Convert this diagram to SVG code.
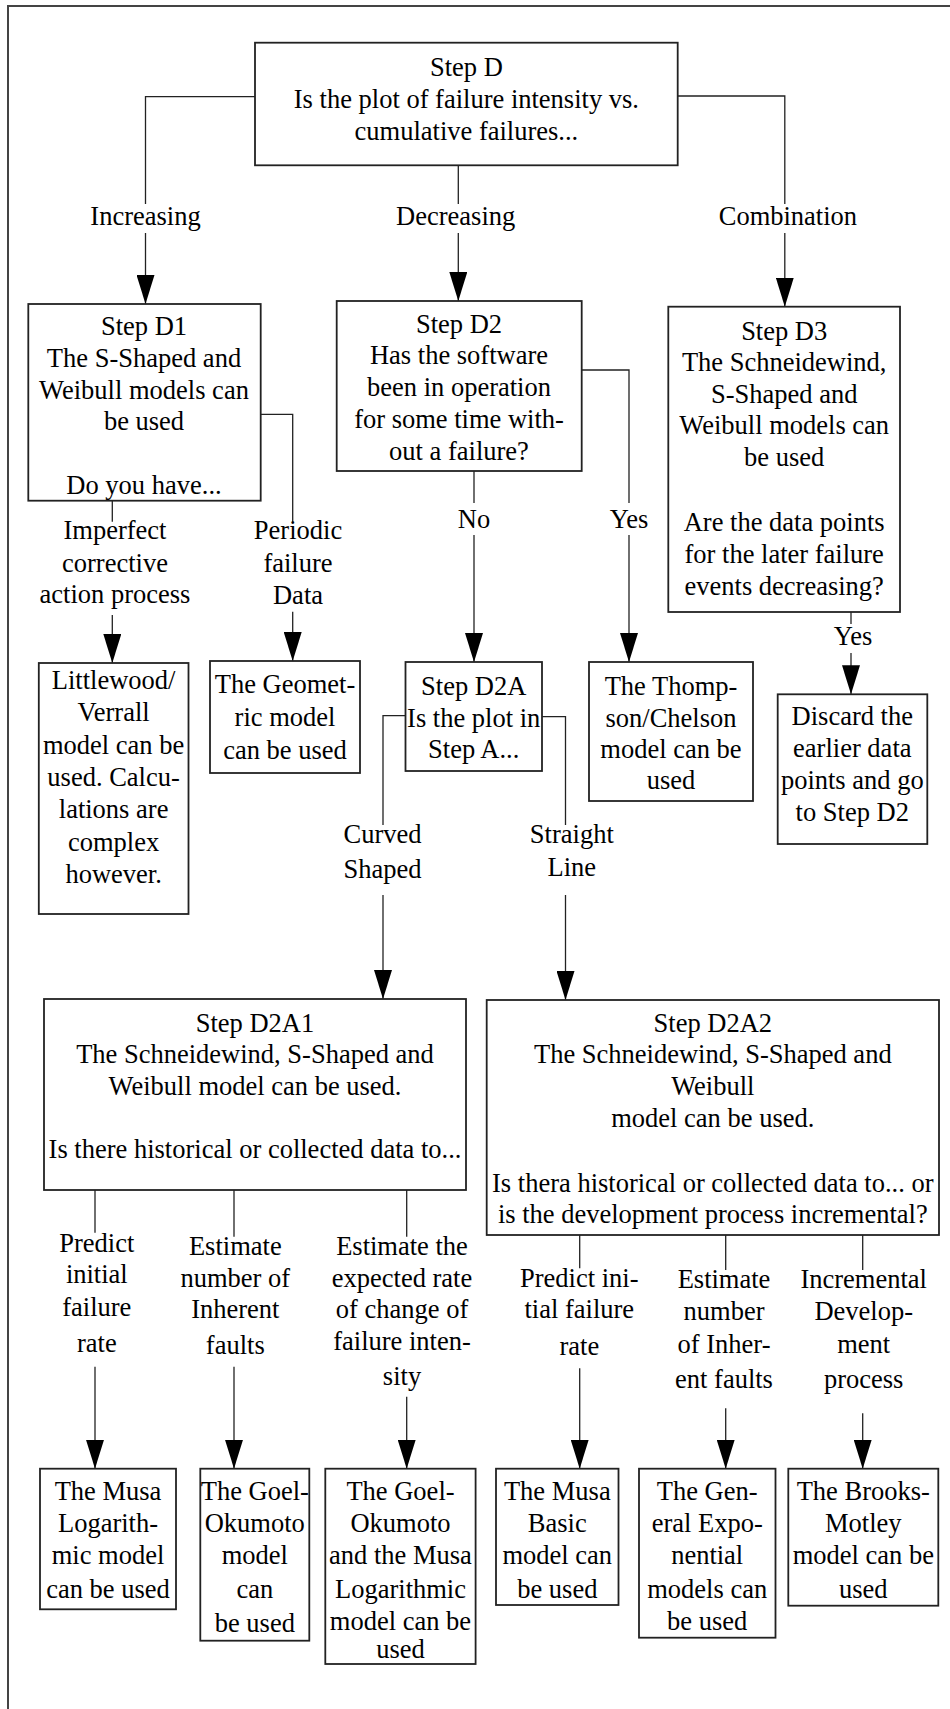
<svg xmlns="http://www.w3.org/2000/svg" width="950" height="1709" viewBox="0 0 950 1709">
  <defs>
    <style>
      .frame { fill: none; stroke: #444; stroke-width: 2; }
      .box { fill: #fff; stroke: #222; stroke-width: 1.8; }
      .edge { fill: none; stroke: #222; stroke-width: 1.3; }
      .arrow { marker-end: url(#head); }
      text { font-family: "Liberation Serif", "Times New Roman", serif; font-size: 26.5px; fill: #000; text-anchor: middle; }
    </style>
    <marker id="head" markerUnits="userSpaceOnUse" markerWidth="30" markerHeight="18" refX="29" refY="9" orient="auto">
      <path d="M0,0 L29,9 L0,18 z" fill="#000"/>
    </marker>
  </defs>

  <rect width="950" height="1709" fill="#fff"/>
  <path class="frame" d="M8,1709 V6 H950"/>

  <!-- connectors and their labels -->
  <g id="connectors">
    <path class="edge" d="M255,96.7 H145.5 V204"/>
    <path class="edge arrow" d="M145.5,233 V304"/>
    <path class="edge" d="M458.3,165.3 V204"/>
    <path class="edge arrow" d="M458.3,233 V301"/>
    <path class="edge" d="M677.7,96 H784.8 V204"/>
    <path class="edge arrow" d="M784.8,233 V306.7"/>

    <path class="edge" d="M112.3,500.7 V521.7"/>
    <path class="edge arrow" d="M112.3,615 V663"/>
    <path class="edge" d="M260.7,414.3 H292.7 V521.7"/>
    <path class="edge arrow" d="M292.7,611.7 V661"/>

    <path class="edge" d="M474,471 V503"/>
    <path class="edge arrow" d="M474,535 V662"/>
    <path class="edge" d="M581.7,370 H629 V503"/>
    <path class="edge arrow" d="M629,535 V662"/>

    <path class="edge" d="M851,612 V624"/>
    <path class="edge arrow" d="M851,653 V694.3"/>

    <path class="edge" d="M405.5,715.7 H383 V825"/>
    <path class="edge arrow" d="M383,895 V999"/>
    <path class="edge" d="M542,716.7 H565.5 V825"/>
    <path class="edge arrow" d="M565.5,895 V1000"/>

    <path class="edge" d="M95,1190 V1232.7"/>
    <path class="edge arrow" d="M95,1366.7 V1468.7"/>
    <path class="edge" d="M234,1190 V1236.7"/>
    <path class="edge arrow" d="M234,1366.7 V1468.7"/>
    <path class="edge" d="M406.7,1190 V1236.7"/>
    <path class="edge arrow" d="M406.7,1396.7 V1468.7"/>

    <path class="edge" d="M579.7,1235 V1268.3"/>
    <path class="edge arrow" d="M579.7,1368.3 V1468.7"/>
    <path class="edge" d="M725.7,1235 V1270"/>
    <path class="edge arrow" d="M725.7,1408.3 V1468.7"/>
    <path class="edge" d="M862.7,1235 V1270"/>
    <path class="edge arrow" d="M862.7,1413.3 V1468.7"/>

    <text x="145.5" y="225">Increasing</text>
    <text x="455.7" y="225">Decreasing</text>
    <text x="787.9" y="225">Combination</text>

    <text><tspan x="115" y="539.3">Imperfect</tspan><tspan x="115" y="571.7">corrective</tspan><tspan x="115" y="603.3">action process</tspan></text>
    <text><tspan x="298" y="539.3">Periodic</tspan><tspan x="298" y="571.7">failure</tspan><tspan x="298" y="604">Data</tspan></text>
    <text x="474" y="527.7">No</text>
    <text x="629" y="527.7">Yes</text>
    <text x="853" y="645">Yes</text>

    <text><tspan x="382.6" y="843">Curved</tspan><tspan x="382.6" y="878">Shaped</tspan></text>
    <text><tspan x="571.8" y="843">Straight</tspan><tspan x="571.8" y="876">Line</tspan></text>

    <text><tspan x="96.8" y="1251.7">Predict</tspan><tspan x="96.8" y="1283.3">initial</tspan><tspan x="96.8" y="1315.7">failure</tspan><tspan x="96.8" y="1351.7">rate</tspan></text>
    <text><tspan x="235.3" y="1255">Estimate</tspan><tspan x="235.3" y="1286.7">number of</tspan><tspan x="235.3" y="1318.3">Inherent</tspan><tspan x="235.3" y="1354">faults</tspan></text>
    <text><tspan x="402" y="1255">Estimate the</tspan><tspan x="402" y="1286.7">expected rate</tspan><tspan x="402" y="1318.3">of change of</tspan><tspan x="402" y="1350">failure inten-</tspan><tspan x="402" y="1385">sity</tspan></text>

    <text><tspan x="579.3" y="1286.7">Predict ini-</tspan><tspan x="579.3" y="1318.3">tial failure</tspan><tspan x="579.3" y="1355">rate</tspan></text>
    <text><tspan x="724" y="1288.3">Estimate</tspan><tspan x="724" y="1320">number</tspan><tspan x="724" y="1353.3">of Inher-</tspan><tspan x="724" y="1388.3">ent faults</tspan></text>
    <text><tspan x="863.7" y="1288.3">Incremental</tspan><tspan x="863.7" y="1320">Develop-</tspan><tspan x="863.7" y="1352.7">ment</tspan><tspan x="863.7" y="1388.3">process</tspan></text>
  </g>

  <g id="step-d">
    <rect class="box" x="255" y="42.7" width="422.7" height="122.6"/>
    <text><tspan x="466.4" y="75.7">Step D</tspan><tspan x="466.4" y="107.6">Is the plot of failure intensity vs.</tspan><tspan x="466.4" y="140">cumulative failures...</tspan></text>
  </g>

  <g id="step-d1">
    <rect class="box" x="28.3" y="304" width="232.4" height="196.7"/>
    <text><tspan x="144" y="335">Step D1</tspan><tspan x="144" y="366.7">The S-Shaped and</tspan><tspan x="144" y="399">Weibull models can</tspan><tspan x="144" y="430">be used</tspan><tspan x="144" y="494">Do you have...</tspan></text>
  </g>

  <g id="step-d2">
    <rect class="box" x="336.7" y="301" width="245" height="170"/>
    <text><tspan x="459" y="332.7">Step D2</tspan><tspan x="459" y="364">Has the software</tspan><tspan x="459" y="396">been in operation</tspan><tspan x="459" y="427.7">for some time with-</tspan><tspan x="459" y="460">out a failure?</tspan></text>
  </g>

  <g id="step-d3">
    <rect class="box" x="668.3" y="306.7" width="231.7" height="305.3"/>
    <text><tspan x="784.2" y="340">Step D3</tspan><tspan x="784.2" y="371">The Schneidewind,</tspan><tspan x="784.2" y="402.7">S-Shaped and</tspan><tspan x="784.2" y="434">Weibull models can</tspan><tspan x="784.2" y="466">be used</tspan><tspan x="784.2" y="530.7">Are the data points</tspan><tspan x="784.2" y="563.3">for the later failure</tspan><tspan x="784.2" y="595">events decreasing?</tspan></text>
  </g>

  <g id="littlewood-verrall">
    <rect class="box" x="38.8" y="663" width="149.7" height="251"/>
    <text><tspan x="113.6" y="689">Littlewood/</tspan><tspan x="113.6" y="721.3">Verrall</tspan><tspan x="113.6" y="753.6">model can be</tspan><tspan x="113.6" y="786">used. Calcu-</tspan><tspan x="113.6" y="818">lations are</tspan><tspan x="113.6" y="850.5">complex</tspan><tspan x="113.6" y="883">however.</tspan></text>
  </g>

  <g id="geometric">
    <rect class="box" x="210" y="661" width="150" height="112"/>
    <text><tspan x="285" y="693">The Geomet-</tspan><tspan x="285" y="726">ric model</tspan><tspan x="285" y="759">can be used</tspan></text>
  </g>

  <g id="step-d2a">
    <rect class="box" x="405.5" y="662" width="136.5" height="109"/>
    <text><tspan x="473.7" y="695">Step D2A</tspan><tspan x="473.7" y="726.5">Is the plot in</tspan><tspan x="473.7" y="758.3">Step A...</tspan></text>
  </g>

  <g id="thompson-chelson">
    <rect class="box" x="589" y="662" width="164" height="139"/>
    <text><tspan x="671" y="695">The Thomp-</tspan><tspan x="671" y="726.7">son/Chelson</tspan><tspan x="671" y="758">model can be</tspan><tspan x="671" y="789">used</tspan></text>
  </g>

  <g id="discard">
    <rect class="box" x="777.7" y="694.3" width="149.6" height="149.7"/>
    <text><tspan x="852.3" y="725">Discard the</tspan><tspan x="852.3" y="757">earlier data</tspan><tspan x="852.3" y="789">points and go</tspan><tspan x="852.3" y="821">to Step D2</tspan></text>
  </g>

  <g id="step-d2a1">
    <rect class="box" x="44" y="999" width="422" height="191"/>
    <text><tspan x="255" y="1031.7">Step D2A1</tspan><tspan x="255" y="1063.3">The Schneidewind, S-Shaped and</tspan><tspan x="255" y="1094.5">Weibull model can be used.</tspan><tspan x="255" y="1158.3">Is there historical or collected data to...</tspan></text>
  </g>

  <g id="step-d2a2">
    <rect class="box" x="486.7" y="1000" width="452.3" height="235"/>
    <text><tspan x="712.8" y="1031.7">Step D2A2</tspan><tspan x="712.8" y="1063.3">The Schneidewind, S-Shaped and</tspan><tspan x="712.8" y="1095">Weibull</tspan><tspan x="712.8" y="1126.7">model can be used.</tspan><tspan x="712.8" y="1191.7">Is thera historical or collected data to... or</tspan><tspan x="712.8" y="1223.3">is the development process incremental?</tspan></text>
  </g>

  <g id="musa-logarithmic">
    <rect class="box" x="40" y="1468.7" width="136" height="140.6"/>
    <text><tspan x="108" y="1500">The Musa</tspan><tspan x="108" y="1532">Logarith-</tspan><tspan x="108" y="1564">mic model</tspan><tspan x="108" y="1598">can be used</tspan></text>
  </g>

  <g id="goel-okumoto">
    <rect class="box" x="200.3" y="1468.7" width="109" height="172"/>
    <text><tspan x="254.8" y="1500">The Goel-</tspan><tspan x="254.8" y="1532">Okumoto</tspan><tspan x="254.8" y="1564">model</tspan><tspan x="254.8" y="1598">can</tspan><tspan x="254.8" y="1631.7">be used</tspan></text>
  </g>

  <g id="goel-okumoto-musa">
    <rect class="box" x="325.3" y="1468.7" width="150.3" height="195.3"/>
    <text><tspan x="400.5" y="1500">The Goel-</tspan><tspan x="400.5" y="1532">Okumoto</tspan><tspan x="400.5" y="1564">and the Musa</tspan><tspan x="400.5" y="1598">Logarithmic</tspan><tspan x="400.5" y="1630">model can be</tspan><tspan x="400.5" y="1658">used</tspan></text>
  </g>

  <g id="musa-basic">
    <rect class="box" x="496" y="1468.7" width="122.5" height="136.3"/>
    <text><tspan x="557.3" y="1500">The Musa</tspan><tspan x="557.3" y="1532">Basic</tspan><tspan x="557.3" y="1564">model can</tspan><tspan x="557.3" y="1598">be used</tspan></text>
  </g>

  <g id="general-exponential">
    <rect class="box" x="639" y="1468.7" width="136.5" height="169"/>
    <text><tspan x="707.2" y="1500">The Gen-</tspan><tspan x="707.2" y="1532">eral Expo-</tspan><tspan x="707.2" y="1564">nential</tspan><tspan x="707.2" y="1598">models can</tspan><tspan x="707.2" y="1630">be used</tspan></text>
  </g>

  <g id="brooks-motley">
    <rect class="box" x="788.3" y="1468.7" width="150" height="137"/>
    <text><tspan x="863.3" y="1500">The Brooks-</tspan><tspan x="863.3" y="1532">Motley</tspan><tspan x="863.3" y="1564">model can be</tspan><tspan x="863.3" y="1598">used</tspan></text>
  </g>
</svg>
